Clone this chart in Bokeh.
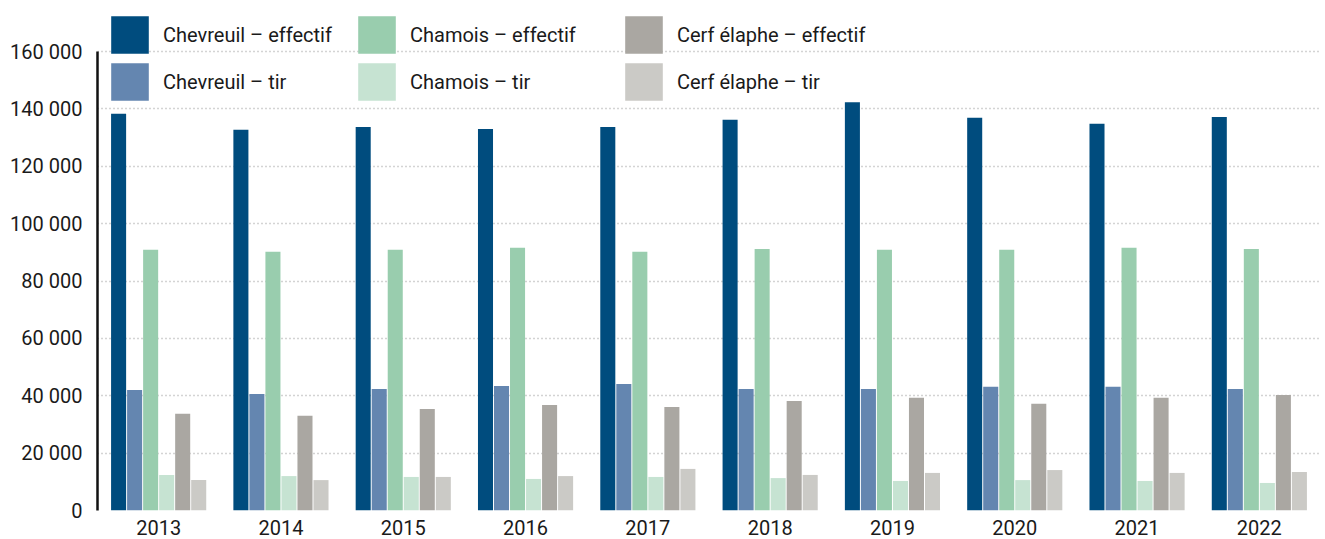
from bokeh.plotting import figure
from bokeh.models import FactorRange, Range1d, Legend, LegendItem, FixedTicker, ColumnDataSource
from bokeh.transform import dodge
from bokeh.embed import file_html
from bokeh.resources import INLINE

years = ["2013", "2014", "2015", "2016", "2017", "2018", "2019", "2020", "2021", "2022"]
chevreuil_effectif = [138300, 132700, 133700, 133000, 133700, 136200, 142300, 136900, 134800, 137200]
chevreuil_tir = [42000, 40600, 42400, 43400, 44100, 42400, 42400, 43100, 43100, 42400]
chamois_effectif = [90900, 90200, 90900, 91600, 90200, 91200, 90900, 90900, 91600, 91200]
chamois_tir = [12400, 12000, 11700, 11000, 11700, 11300, 10300, 10600, 10300, 9600]
cerf_effectif = [33700, 33000, 35400, 36800, 36100, 38200, 39300, 37200, 39300, 40300]
cerf_tir = [10600, 10600, 11700, 12000, 14500, 12400, 13100, 14100, 13100, 13400]

series_names = ["Chevreuil – effectif", "Chevreuil – tir", "Chamois – effectif",
                "Chamois – tir", "Cerf élaphe – effectif", "Cerf élaphe – tir"]
series_keys = ["chev_eff", "chev_tir", "cham_eff", "cham_tir", "cerf_eff", "cerf_tir"]
colors = ["#004c7e", "#6486b0", "#99cdae", "#c6e3d2", "#aaa7a2", "#cbcac6"]

y_ticks = [0, 20000, 40000, 60000, 80000, 100000, 120000, 140000, 160000]
y_tick_labels = ["0", "20 000", "40 000", "60 000", "80 000", "100 000", "120 000", "140 000", "160 000"]

source = ColumnDataSource(dict(
    years=years,
    chev_eff=chevreuil_effectif,
    chev_tir=chevreuil_tir,
    cham_eff=chamois_effectif,
    cham_tir=chamois_tir,
    cerf_eff=cerf_effectif,
    cerf_tir=cerf_tir,
))

FONT = "Roboto"
TXT = "#1a1a1a"

p = figure(
    width=1325, height=539,
    x_range=FactorRange(factors=years, range_padding=0),
    y_range=Range1d(0, 177800),
    output_backend="svg", toolbar_location=None,
    min_border_top=0, min_border_right=5, min_border_left=97, min_border_bottom=29,
)
p.outline_line_color = None
p.background_fill_color = "white"

slot = 0.131
bar_w = 0.123
renderers = []
for i, (key, col) in enumerate(zip(series_keys, colors)):
    r = p.vbar(x=dodge("years", (i - 2.5) * slot, range=p.x_range), top=key, width=bar_w,
               source=source, fill_color=col, line_color=None)
    renderers.append(r)

# Y axis
p.yaxis.ticker = FixedTicker(ticks=y_ticks)
p.yaxis.major_label_overrides = {t: l for t, l in zip(y_ticks, y_tick_labels)}
p.yaxis.bounds = (0, 160000)
p.yaxis.axis_line_color = "#111111"
p.yaxis.axis_line_width = 2.5
p.yaxis.major_tick_out = 0
p.yaxis.major_tick_in = 0
p.yaxis.minor_tick_out = 0
p.yaxis.minor_tick_in = 0
p.yaxis.major_label_standoff = 15
p.yaxis.major_label_text_font = FONT
p.yaxis.major_label_text_font_size = "20px"
p.yaxis.major_label_text_color = TXT

# X axis
p.xaxis.axis_line_color = None
p.xaxis.major_tick_out = 0
p.xaxis.major_tick_in = 0
p.xaxis.major_label_standoff = 9
p.xaxis.major_label_text_font = FONT
p.xaxis.major_label_text_font_size = "20px"
p.xaxis.major_label_text_color = TXT

# Grid
p.xgrid.grid_line_color = None
p.ygrid.ticker = FixedTicker(ticks=y_ticks)
p.ygrid.grid_line_color = "#a8a8a8"
p.ygrid.grid_line_width = 1.5
p.ygrid.grid_line_dash = "1 3"

# Legends: three columns of two rows
col_x = [9, 256, 523]
for c in range(3):
    items = [LegendItem(label=series_names[2 * c + k], renderers=[renderers[2 * c + k]]) for k in range(2)]
    leg = Legend(
        items=items, location=(col_x[c], 405),
        orientation="vertical",
        glyph_width=47, glyph_height=47, spacing=0, label_standoff=10,
        padding=0, margin=0,
        border_line_color=None, background_fill_alpha=0,
        label_text_font=FONT, label_text_font_size="20px", label_text_color=TXT,
    )
    p.add_layout(leg)

open("out.html", "w").write(file_html(p, INLINE))
